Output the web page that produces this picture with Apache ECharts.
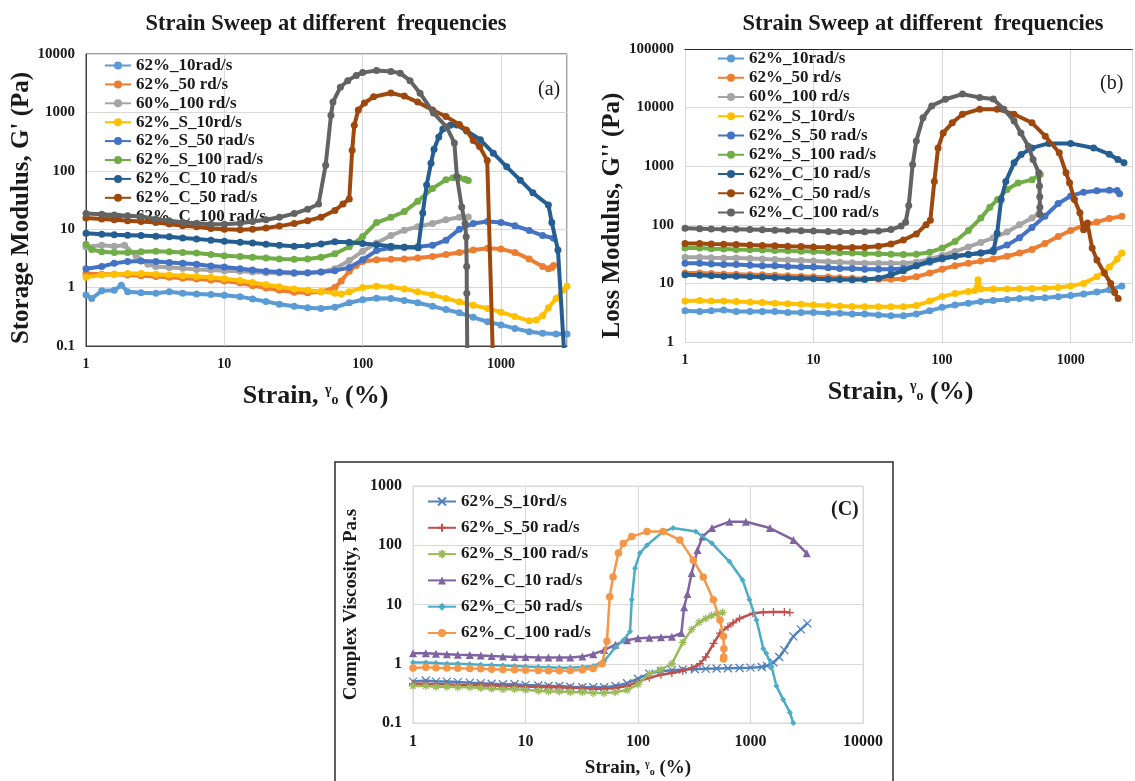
<!DOCTYPE html>
<html>
<head>
<meta charset="utf-8">
<script src="https://cdn.jsdelivr.net/npm/echarts@6/dist/echarts.min.js"></script>
<style>
html,body{margin:0;padding:0;background:#fff}
#container{width:1135px;height:781px}
</style>
</head>
<body>
<div id="container"></div>
<script>
// ---- panel (a): storage modulus G' (Pa) vs strain (%)
const a_10 = [[1,0.75],[1.1,0.65],[1.3,0.88],[1.6,0.9],[1.8,1.1],[2,0.85],[2.5,0.82],[3.2,0.8],[4,0.85],[5,0.8],[6.3,0.78],[8,0.76],[10,0.74],[13,0.7],[16,0.64],[20,0.58],[25,0.52],[32,0.48],[40,0.45],[50,0.44],[63,0.46],[80,0.55],[100,0.62],[126,0.66],[160,0.65],[200,0.6],[250,0.55],[320,0.48],[400,0.42],[500,0.37],[630,0.31],[800,0.26],[1000,0.23],[1260,0.2],[1600,0.175],[2000,0.165],[2500,0.16],[3000,0.16]];
const a_50 = [[1,1.75],[1.3,1.7],[1.6,1.7],[2,1.65],[2.5,1.6],[3.2,1.55],[4,1.5],[5,1.45],[6.3,1.4],[8,1.35],[10,1.3],[13,1.2],[16,1.08],[20,0.98],[25,0.9],[32,0.83],[40,0.82],[50,0.85],[63,1.0],[70,1.3],[80,1.9],[90,2.4],[100,2.8],[126,3.0],[160,3.05],[200,3.1],[250,3.2],[320,3.4],[400,3.7],[500,4.0],[630,4.4],[800,4.7],[1000,4.6],[1260,4.0],[1600,3.1],[2000,2.3],[2200,2.1],[2330,2.2],[2400,2.4]];
const a_100 = [[1,5],[1.3,5.3],[1.6,5.1],[1.9,5.3],[2.3,3.5],[2.8,2.5],[3.2,2.3],[4,2.2],[5,2.15],[6.3,2.05],[8,2],[10,1.95],[13,1.9],[16,1.85],[20,1.8],[25,1.78],[32,1.75],[40,1.78],[50,1.85],[63,2.1],[80,2.9],[100,4.2],[126,5.8],[160,7.8],[200,9.6],[250,11],[320,12.5],[400,14.5],[500,16],[580,16.2]];
const a_S10 = [[1,1.5],[1.3,1.65],[1.6,1.7],[2,1.75],[2.5,1.75],[3.2,1.7],[4,1.65],[5,1.6],[6.3,1.55],[8,1.5],[10,1.42],[13,1.32],[16,1.22],[20,1.12],[25,1.03],[32,0.95],[40,0.9],[50,0.86],[63,0.8],[70,0.78],[80,0.85],[100,1.0],[126,1.05],[160,1.02],[200,0.95],[250,0.85],[320,0.75],[400,0.65],[500,0.57],[630,0.5],[800,0.44],[1000,0.38],[1260,0.32],[1600,0.27],[1800,0.28],[2000,0.33],[2200,0.45],[2500,0.65],[2800,0.9],[3000,1.05]];
const a_S50 = [[1,2.1],[1.3,2.3],[1.6,2.6],[2,2.8],[2.5,2.85],[3.2,2.8],[4,2.7],[5,2.6],[6.3,2.5],[8,2.35],[10,2.25],[13,2.1],[16,2.0],[20,1.9],[25,1.85],[32,1.8],[40,1.8],[50,1.85],[63,1.95],[80,2.2],[100,3.0],[126,4.3],[160,4.8],[200,4.9],[250,5],[320,5.3],[400,6.5],[500,10],[630,12.5],[800,13.5],[1000,13],[1260,11.5],[1600,9.5],[2000,7.8],[2400,7]];
const a_S100 = [[1,5.5],[1.1,4.5],[1.3,4.1],[1.6,4.0],[2,4.0],[2.5,4.1],[3.2,4.2],[4,4.1],[5,4.0],[6.3,3.9],[8,3.7],[10,3.5],[13,3.4],[16,3.3],[20,3.2],[25,3.1],[32,3.05],[40,3.1],[50,3.3],[63,3.8],[80,5],[100,7.5],[126,13],[160,16],[200,20],[250,30],[320,50],[400,70],[450,76],[500,75],[550,72],[580,68]];
const a_C10 = [[1,8.5],[1.3,8.2],[1.6,8],[2,7.9],[2.5,7.8],[3.2,7.6],[4,7.4],[5,7.1],[6.3,6.8],[8,6.5],[10,6.2],[13,6],[16,5.8],[20,5.5],[25,5.3],[32,5.1],[40,5.2],[50,5.6],[63,6.1],[80,6.0],[100,5.7],[126,5.4],[160,5.1],[200,4.9],[252,4.8],[272,19],[290,57],[312,135],[328,234],[355,380],[380,520],[430,600],[480,610],[565,480],[710,340],[880,200],[1100,117],[1380,69],[1700,42],[2200,26],[2330,13],[2580,4.4],[2850,0.09]];
const a_C50 = [[1,15.5],[1.3,15],[1.6,14.5],[2,14],[2.5,13.5],[3.2,13],[4,12.3],[5,11.5],[6.3,11],[8,10.3],[10,10],[13,9.8],[16,10],[20,10.5],[25,11.3],[32,12.5],[40,14],[50,16],[63,21],[72,27],[80,33],[84,225],[87,600],[93,1100],[103,1450],[120,1850],[160,2150],[200,1900],[250,1500],[320,1100],[400,850],[500,620],[560,500],[630,330],[700,260],[795,150],[870,0.09]];
const a_C100 = [[1,18.5],[1.3,18],[1.6,17.5],[2,17],[2.5,16.5],[3.2,15],[4,14],[5,13.2],[6.3,12.6],[8,12.2],[10,12.2],[13,12.6],[16,13.5],[20,14.5],[25,16],[32,18.5],[40,22],[48,27],[54,125],[59,890],[61,1500],[69,2700],[78,3500],[90,4300],[100,4800],[126,5200],[160,5000],[187,4700],[220,3500],[260,2130],[325,980],[405,560],[460,300],[480,80],[520,24],[550,12.5],[560,7.4],[565,2.3],[566,0.8],[570,0.09]];

// ---- panel (b): loss modulus G'' (Pa) vs strain (%)
const b_10 = [[1,3.4],[1.3,3.3],[1.6,3.4],[2,3.5],[2.5,3.3],[3.2,3.3],[4,3.3],[5,3.3],[6.3,3.2],[8,3.2],[10,3.2],[13,3.1],[16,3.1],[20,3.0],[25,3.0],[32,2.9],[40,2.8],[50,2.8],[63,3.0],[80,3.4],[100,3.9],[126,4.3],[160,4.6],[200,4.9],[250,5.1],[320,5.3],[400,5.5],[500,5.6],[630,5.7],[800,5.9],[1000,6.2],[1260,6.6],[1600,7.1],[2000,7.8],[2500,9]];
const b_50 = [[1,15],[1.3,15],[1.6,14.8],[2,14.5],[2.5,14.3],[3.2,14],[4,14],[5,13.8],[6.3,13.5],[8,13.3],[10,13],[13,12.8],[16,12.5],[20,12.2],[25,12],[32,11.8],[40,11.8],[50,12],[63,13],[80,15],[100,17.5],[126,20],[160,22],[200,24],[250,26],[320,29],[400,33],[500,38],[630,48],[800,63],[1000,80],[1260,97],[1600,112],[2000,128],[2500,140]];
const b_100 = [[1,28],[1.3,28],[1.6,27.5],[2,27],[2.5,27],[3.2,26.5],[4,26],[5,25.5],[6.3,25],[8,24.5],[10,24],[13,23.5],[16,23],[20,22.5],[25,22],[32,22],[40,22],[50,22],[63,23],[80,26],[100,30],[126,35],[160,42],[200,50],[250,60],[320,75],[400,100],[500,130],[570,160]];
const b_S10 = [[1,5],[1.3,5.1],[1.6,5],[2,5],[2.5,4.9],[3.2,4.8],[4,4.7],[5,4.6],[6.3,4.5],[8,4.4],[10,4.3],[13,4.2],[16,4.1],[20,4.05],[25,4],[32,4],[40,4],[50,4],[63,4.2],[80,5],[100,6],[126,6.7],[160,7.3],[180,7.6],[190,11.5],[200,8],[250,8],[320,8],[400,8.1],[500,8.2],[630,8.3],[800,8.5],[1000,9],[1260,10],[1600,13],[2000,19],[2300,26],[2500,33]];
const b_S50 = [[1,22],[1.3,22],[1.6,21.5],[2,21],[2.5,21],[3.2,20.5],[4,20],[5,20],[6.3,19.5],[8,19],[10,19],[13,18.5],[16,18],[20,18],[25,17.5],[32,17.5],[40,17.5],[50,18],[63,20],[80,23],[100,26],[126,29],[160,31],[200,33],[250,37],[320,45],[400,60],[500,90],[630,140],[800,230],[1000,310],[1260,360],[1600,380],[2000,390],[2300,385],[2400,340]];
const b_S100 = [[1,40],[1.3,40],[1.6,39],[2,38.5],[2.5,38],[3.2,37.5],[4,37],[5,36.5],[6.3,36],[8,35.5],[10,35],[13,34],[16,33.5],[20,33],[25,32.5],[32,32],[40,31.5],[50,31],[63,31.5],[80,34],[100,40],[126,52],[160,80],[200,130],[235,200],[270,270],[320,400],[390,515],[500,590],[580,720]];
const b_C10 = [[1,14],[1.3,13.8],[1.6,13.5],[2,13.3],[2.5,13.2],[3.2,13],[4,12.8],[5,12.6],[6.3,12.4],[8,12.2],[10,12],[13,11.8],[16,11.6],[20,11.5],[25,11.7],[32,12.2],[40,14],[50,16.5],[63,20],[80,24],[100,27],[126,29],[160,31],[200,33],[250,35],[268,72],[288,270],[313,550],[363,1140],[412,1590],[500,2050],[675,2450],[1000,2450],[1510,2050],[2000,1600],[2330,1300],[2600,1150]];
const b_C50 = [[1,48],[1.3,48],[1.6,47],[2,46.5],[2.5,46],[3.2,45],[4,44.5],[5,44],[6.3,43],[8,42.5],[10,42],[13,41.5],[16,41],[20,41],[25,41.5],[32,43],[40,47],[50,55],[63,70],[75,100],[81,120],[87,550],[93,2050],[102,3700],[120,5500],[144,7700],[196,9400],[268,9400],[363,7700],[500,5500],[635,3250],[815,1700],[920,770],[980,520],[1070,270],[1180,160],[1260,82],[1350,107],[1470,40],[1600,25],[1830,15],[2050,10],[2200,7],[2340,5.5]];
const b_C100 = [[1,87],[1.3,86],[1.6,85],[2,84],[2.5,84],[3.2,83],[4,82],[5,81],[6.3,80],[8,79],[10,78],[13,77],[16,76],[20,75],[25,76],[32,78],[40,83],[48,95],[52,110],[55,213],[59,1070],[63,2700],[71,6700],[83,10700],[106,13900],[144,17000],[196,14900],[250,14000],[302,9400],[363,5900],[410,3700],[468,2200],[510,1300],[565,770],[572,460],[575,300],[576,200],[575,150]];

// ---- panel (c): complex viscosity (Pa.s) vs strain (%)
const c_S10 = [[1,0.5],[1.3,0.52],[1.6,0.5],[2,0.5],[2.5,0.49],[3.2,0.48],[4,0.47],[5,0.46],[6.3,0.45],[8,0.45],[10,0.44],[13,0.43],[16,0.42],[20,0.42],[25,0.41],[32,0.4],[40,0.4],[50,0.4],[63,0.42],[80,0.47],[100,0.56],[126,0.68],[160,0.75],[200,0.78],[250,0.8],[320,0.81],[400,0.82],[500,0.83],[630,0.84],[800,0.85],[1000,0.86],[1260,0.88],[1400,0.92],[1600,1.05],[1800,1.3],[2000,1.7],[2400,2.9],[2800,3.8],[3200,4.8]];
const c_S50 = [[1,0.46],[1.3,0.46],[1.6,0.45],[2,0.45],[2.5,0.44],[3.2,0.44],[4,0.43],[5,0.43],[6.3,0.42],[8,0.42],[10,0.41],[13,0.41],[16,0.4],[20,0.4],[25,0.39],[32,0.39],[40,0.38],[50,0.38],[63,0.39],[80,0.42],[100,0.5],[126,0.58],[160,0.65],[200,0.7],[250,0.76],[300,0.85],[355,1.0],[400,1.3],[470,2.2],[535,3.3],[630,4.2],[700,4.9],[800,5.8],[1050,7.1],[1300,7.4],[1600,7.5],[2000,7.5],[2240,7.3]];
const c_S100 = [[1,0.42],[1.3,0.42],[1.6,0.41],[2,0.41],[2.5,0.4],[3.2,0.4],[4,0.39],[5,0.38],[6.3,0.37],[8,0.37],[10,0.36],[13,0.35],[16,0.34],[20,0.34],[25,0.33],[32,0.33],[40,0.32],[50,0.32],[63,0.33],[80,0.36],[100,0.45],[126,0.68],[160,0.8],[200,1.0],[250,2.3],[300,3.8],[350,5],[400,5.8],[450,6.5],[500,7],[565,7.3]];
const c_C10 = [[1,1.5],[1.3,1.5],[1.6,1.48],[2,1.45],[2.5,1.42],[3.2,1.4],[4,1.38],[5,1.35],[6.3,1.33],[8,1.3],[10,1.3],[13,1.28],[16,1.27],[20,1.27],[25,1.28],[32,1.32],[40,1.45],[50,1.7],[63,2.1],[80,2.5],[100,2.7],[126,2.75],[160,2.8],[200,2.85],[243,3.3],[257,9],[275,15],[300,34],[338,83],[375,140],[455,195],[650,250],[910,250],[1490,195],[2410,123],[3160,73]];
const c_C50 = [[1,1.05],[1.3,1.05],[1.6,1.03],[2,1.0],[2.5,1.0],[3.2,0.98],[4,0.96],[5,0.95],[6.3,0.93],[8,0.92],[10,0.9],[13,0.88],[16,0.87],[20,0.86],[25,0.86],[32,0.88],[40,0.92],[50,1.1],[63,1.9],[74,2.5],[85,3.5],[88,12],[94,41],[104,74],[120,100],[167,170],[205,195],[326,170],[455,108],[650,53],[850,26],[980,12],[1130,5.5],[1300,1.8],[1380,1.5],[1540,0.9],[1700,0.42],[1950,0.25],[2240,0.15],[2400,0.1]];
const c_C100 = [[1,0.85],[1.3,0.87],[1.6,0.86],[2,0.85],[2.5,0.84],[3.2,0.83],[4,0.82],[5,0.81],[6.3,0.8],[8,0.79],[10,0.78],[13,0.77],[16,0.76],[20,0.76],[25,0.77],[32,0.79],[40,0.83],[48,1.0],[53,2.4],[56,13.5],[60,29],[67,74],[74,107],[88,140],[120,170],[167,170],[235,123],[310,56],[380,29],[467,12],[535,5.5],[575,2.9],[580,1.8],[578,1.3],[575,1.2]];

const namesAB = ['62%_10rad/s','62%_50 rd/s','60%_100 rd/s','62%_S_10rd/s','62%_S_50 rad/s','62%_S_100 rad/s','62%_C_10 rad/s','62%_C_50 rad/s','62%_C_100 rad/s'];
const colorsAB = ['#5b9bd5','#ed7d31','#a5a5a5','#ffc000','#4472c4','#70ad47','#255e91','#9e480e','#636363'];
const namesC = ['62%_S_10rd/s','62%_S_50 rad/s','62%_S_100 rad/s','62%_C_10 rad/s','62%_C_50 rad/s','62%_C_100 rad/s'];
const colorsC = ['#4f81bd','#c0504d','#9bbb59','#8064a2','#4bacc6','#f79646'];
const symbolsC = [
  'path://M0,0L10,10M10,0L0,10',
  'path://M5,0L5,10M0,5L10,5',
  'path://M5,0L5,10M0,5L10,5M1.5,1.5L8.5,8.5M8.5,1.5L1.5,8.5',
  'triangle', 'diamond', 'circle'
];
const dataA = [a_10, a_50, a_100, a_S10, a_S50, a_S100, a_C10, a_C50, a_C100];
const dataB = [b_10, b_50, b_100, b_S10, b_S50, b_S100, b_C10, b_C50, b_C100];
const dataC = [c_S10, c_S50, c_S100, c_C10, c_C50, c_C100];

const FONT = "'Liberation Serif', 'Times New Roman', serif";
const INK = '#1a1a1a';

function logLabel(v) {
  const l = Math.log10(v), e = Math.round(l);
  if (Math.abs(l - e) > 1e-6) return '';
  return e < 0 ? Math.pow(10, e).toFixed(-e) : String(Math.round(Math.pow(10, e)));
}

const strainName = 'Strain, {g|γ}{o|o} (%)';
function strainStyle(size, pad) {
  return {
    fontFamily: FONT, fontWeight: 'bold', fontSize: size, color: INK, padding: pad,
    rich: {
      g: {fontFamily: FONT, fontSize: Math.round(size * 0.55), color: INK, verticalAlign: 'top', padding: [0, 0, Math.round(size * 0.35), 0]},
      o: {fontFamily: FONT, fontWeight: 'bold', fontSize: Math.round(size * 0.55), color: INK, padding: [Math.round(size * 0.35), 0, 0, 0]}
    }
  };
}

function xLog(grid, max, labelSize, lineColor, nameSize, pad, nameGap) {
  return {
    type: 'log', gridIndex: grid, min: 1, max: max, logBase: 10,
    axisLine: {show: true, lineStyle: {color: lineColor, width: 1}},
    axisTick: {show: false},
    splitLine: {show: true, lineStyle: {color: '#d9d9d9'}},
    axisLabel: {formatter: logLabel, fontFamily: FONT, fontWeight: 'bold', fontSize: labelSize, color: INK, margin: 11},
    name: strainName, nameLocation: 'middle', nameGap: nameGap,
    nameTextStyle: strainStyle(nameSize, pad)
  };
}
function yLog(grid, min, max, labelSize, lineColor, name, nameSize, nameGap, pad) {
  return {
    type: 'log', gridIndex: grid, min: min, max: max, logBase: 10,
    axisLine: {show: true, lineStyle: {color: lineColor, width: 1}},
    axisTick: {show: false},
    splitLine: {show: true, lineStyle: {color: '#d9d9d9'}},
    axisLabel: {formatter: logLabel, fontFamily: FONT, fontWeight: 'bold', fontSize: labelSize, color: INK, margin: 11},
    name: name, nameLocation: 'middle', nameGap: nameGap,
    nameTextStyle: {fontFamily: FONT, fontWeight: 'bold', fontSize: nameSize, color: INK, padding: pad}
  };
}

const series = [];
namesAB.forEach((n, i) => {
  [dataA, dataB].forEach((d, g) => {
    series.push({
      name: n, type: 'line', xAxisIndex: g, yAxisIndex: g, data: d[i],
      symbol: 'circle', symbolSize: 7, showSymbol: true,
      lineStyle: {color: colorsAB[i], width: 4},
      itemStyle: {color: colorsAB[i]},
      z: 2 + i
    });
  });
});
namesC.forEach((n, i) => {
  series.push({
    name: 'c:' + n, type: 'line', xAxisIndex: 3, yAxisIndex: 2, data: dataC[i],
    symbol: symbolsC[i], symbolSize: i === 4 ? 6 : (i === 5 ? 7.5 : 8),
    lineStyle: {color: colorsC[i], width: 2.5},
    itemStyle: {color: colorsC[i], borderColor: colorsC[i], borderWidth: i < 3 ? 1.3 : 0},
    z: 2 + i
  });
});

const legendText = {fontFamily: FONT, fontWeight: 'bold', fontSize: 17, color: INK, lineHeight: 16};
const titleText = {fontFamily: FONT, fontWeight: 'bold', fontSize: 22.5, color: INK};

const chart = echarts.init(document.getElementById('container'));
chart.setOption({
  animation: false,
  backgroundColor: '#fff',
  title: [
    {text: 'Strain Sweep at different  frequencies', left: 321, top: 8, textAlign: 'center', textStyle: titleText},
    {text: 'Strain Sweep at different  frequencies', left: 918, top: 8, textAlign: 'center', textStyle: titleText},
    {text: '(a)', left: 533, top: 75, textStyle: {fontFamily: FONT, fontWeight: 'normal', fontSize: 20, color: INK}},
    {text: '(b)', left: 1095, top: 69, textStyle: {fontFamily: FONT, fontWeight: 'normal', fontSize: 20, color: INK}},
    {text: '(C)', left: 826, top: 495, textStyle: {fontFamily: FONT, fontWeight: 'bold', fontSize: 20, color: INK}}
  ],
  legend: [
    {data: namesAB, orient: 'vertical', left: 104, top: 57, itemWidth: 26, itemHeight: 10, itemGap: 1.9, textStyle: legendText, padding: 0},
    {data: namesAB, orient: 'vertical', left: 717, top: 50, itemWidth: 26, itemHeight: 10, itemGap: 2.25, textStyle: legendText, padding: 0},
    {data: namesC.map(n => 'c:' + n), orient: 'vertical', left: 427, top: 493, itemWidth: 28, itemHeight: 10, itemGap: 9.3,
     formatter: n => n.slice(2), textStyle: legendText, padding: 0}
  ],
  grid: [
    {left: 86, top: 54, width: 481, height: 292, show: true, borderColor: '#404040', borderWidth: 1},
    {left: 685, top: 49, width: 458, height: 293},
    {left: 413, top: 486, width: 450, height: 237, show: true, borderColor: '#d9d9d9', borderWidth: 1}
  ],
  xAxis: [
    xLog(0, 3000, 14, '#404040', 26, [0, 22, 0, 0], 37),
    xLog(1, 3000, 14, '#d9d9d9', 26, [0, 16, 0, 0], 37),
    {type: 'log', gridIndex: 1, min: 1, max: 3000, position: 'top', axisLine: {show: true, lineStyle: {color: '#262626', width: 1.2}},
     axisTick: {show: false}, axisLabel: {show: false}, splitLine: {show: false}},
    xLog(2, 10000, 16, '#d9d9d9', 19, [0, 0, 0, 0], 36)
  ],
  yAxis: [
    yLog(0, 0.1, 10000, 15, '#404040', "Storage Modulus, G' (Pa)", 25, 52, [0, 16, 0, 0]),
    yLog(1, 1, 100000, 15, '#d9d9d9', "Loss Modulus, G'' (Pa)", 25, 51, [0, 40, 0, 0]),
    yLog(2, 0.1, 1000, 16, '#d9d9d9', 'Complex Viscosity, Pa.s', 19, 52, [0, 0, 0, 0])
  ],
  graphic: [
    {type: 'rect', shape: {x: 335, y: 462, width: 558, height: 330}, style: {fill: 'none', stroke: '#2b2b2b', lineWidth: 1.5}, silent: true}
  ],
  series: series
});
</script>
</body>
</html>
